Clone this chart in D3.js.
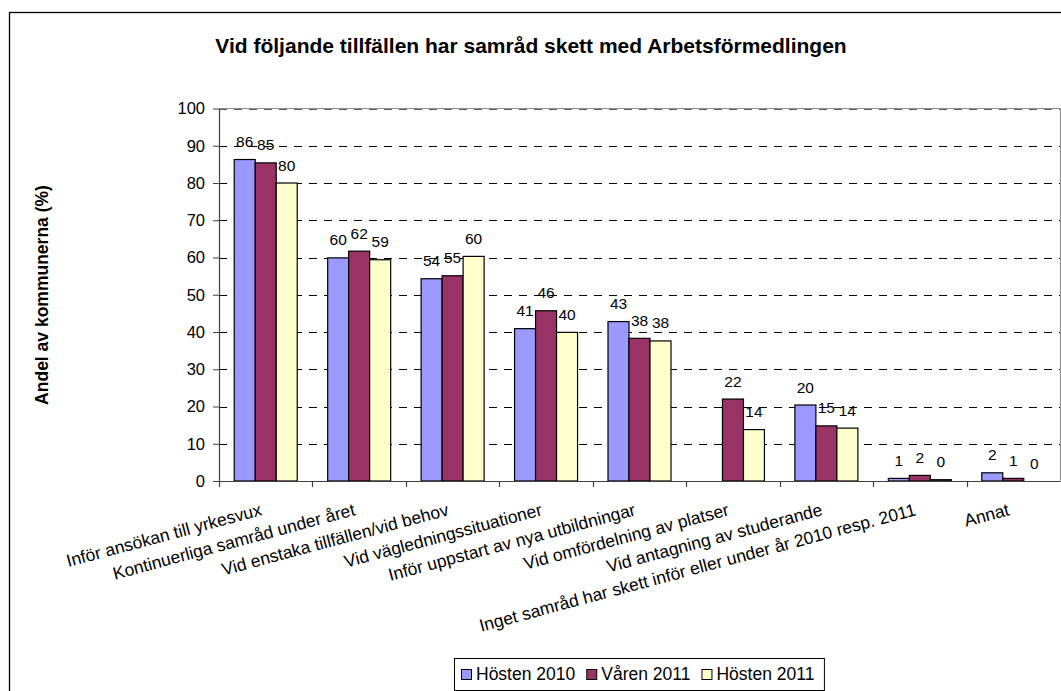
<!DOCTYPE html>
<html><head><meta charset="utf-8">
<script src="https://cdn.jsdelivr.net/npm/d3@7"></script>
<style>
body{margin:0;background:#fff}
svg{display:block}
text{font-family:"Liberation Sans",Arial,sans-serif;fill:#000}
</style>
</head><body>
<svg id="c" width="1061" height="691"></svg>
<script>
const categories = [
  "Inför ansökan till yrkesvux",
  "Kontinuerliga samråd under året",
  "Vid enstaka tillfällen/vid behov",
  "Vid vägledningssituationer",
  "Inför uppstart av nya utbildningar",
  "Vid omfördelning av platser",
  "Vid antagning av studerande",
  "Inget samråd har skett inför eller under år 2010 resp. 2011",
  "Annat"
];
const seriesNames = ["Hösten 2010", "Våren 2011", "Hösten 2011"];
const hosten2010 = [86.3, 59.9, 54.3, 40.9, 42.8, null, 20.4, 0.7, 2.2];
const varen2011  = [85.4, 61.7, 55.1, 45.7, 38.3, 22.0, 14.8, 1.5, 0.7];
const hosten2011 = [80.0, 59.4, 60.3, 39.9, 37.6, 13.8, 14.2, 0.35, 0];
const yTicks = [0, 10, 20, 30, 40, 50, 60, 70, 80, 90, 100];
const colors = ["#9999FF", "#993366", "#FFFFCC"];
const titleText = "Vid följande tillfällen har samråd skett med Arbetsförmedlingen";
const yTitleText = "Andel av kommunerna (%)";

const seriesValues = [hosten2010, varen2011, hosten2011];
const svg = d3.select("#c");
const P = {left: 219, right: 1060, top: 108.5, bottom: 481};

// outer chart border
svg.append("rect").attr("x", 9.5).attr("y", 12.5).attr("width", 1100).attr("height", 700)
  .attr("fill", "#fff").attr("stroke", "#000").attr("stroke-width", 1.3);

const x0 = d3.scaleBand().domain(categories).range([P.left, P.right]).padding(0);
const groupW = 63;
const x1 = d3.scaleBand().domain(seriesNames).range([(x0.bandwidth() - groupW) / 2, (x0.bandwidth() + groupW) / 2]).padding(0);
const y = d3.scaleLinear().domain([0, 100]).range([P.bottom, P.top]);

// plot area border (top/right, gray)
svg.append("path")
  .attr("d", `M${P.left},${P.top}H${P.right + 0.5}V${P.bottom}`)
  .attr("fill", "none").attr("stroke", "#909090").attr("stroke-width", 1.2);

// gridlines
svg.append("g").selectAll("line").data(yTicks.filter(d => d > 0)).join("line")
  .attr("x1", P.left).attr("x2", P.right)
  .attr("y1", d => Math.round(y(d)) + 0.5).attr("y2", d => Math.round(y(d)) + 0.5)
  .attr("stroke", d => d === 100 ? "#606060" : "#000").attr("stroke-width", 1)
  .attr("stroke-dasharray", "8,7");

// bars
const rows = [];
categories.forEach((c, i) => {
  seriesNames.forEach((s, j) => {
    rows.push({cat: c, ser: s, v: seriesValues[j][i], color: colors[j]});
  });
});
const valid = rows.filter(d => d.v !== null);
svg.append("g").selectAll("rect").data(valid).join("rect")
  .attr("x", d => x0(d.cat) + x1(d.ser))
  .attr("y", d => y(d.v))
  .attr("width", x1.bandwidth())
  .attr("height", d => y(0) - y(d.v))
  .attr("fill", d => d.color)
  .attr("stroke", "#000").attr("stroke-width", 1.2);

// data labels
svg.append("g").selectAll("text").data(valid).join("text")
  .attr("x", d => x0(d.cat) + x1(d.ser) + x1.bandwidth() / 2)
  .attr("y", d => y(d.v) - 12.5)
  .attr("text-anchor", "middle")
  .attr("font-size", 15.5)
  .text(d => d3.format(".0f")(d.v));

// y axis
const yAxis = svg.append("g").attr("transform", `translate(${P.left},0)`)
  .call(d3.axisLeft(y).tickValues(yTicks).tickSize(6).tickSizeOuter(0).tickPadding(8));
yAxis.select(".domain").attr("stroke", "#404040").attr("stroke-width", 1.2);
yAxis.selectAll(".tick line").attr("stroke", "#404040");
yAxis.selectAll(".tick text").attr("font-size", 16.5).attr("font-family", "Liberation Sans, Arial, sans-serif").attr("fill", "#000");

// x axis line and boundary ticks
const xAxis = svg.append("g").attr("transform", `translate(0,${P.bottom})`)
  .call(d3.axisBottom(x0).tickSize(0).tickSizeOuter(0).tickFormat(""));
xAxis.select(".domain").attr("stroke", "#404040").attr("stroke-width", 1.2);
const bounds = categories.map(c => x0(c));
svg.append("g").selectAll("line").data(bounds).join("line")
  .attr("x1", d => Math.round(d) + 0.5).attr("x2", d => Math.round(d) + 0.5)
  .attr("y1", P.bottom).attr("y2", P.bottom + 6)
  .attr("stroke", "#404040").attr("stroke-width", 1.2);

// x labels (rotated)
svg.append("g").selectAll("text").data(categories).join("text")
  .attr("transform", d => `translate(${x0(d) + x0.bandwidth() / 2 - 3},${P.bottom + 34}) rotate(-15)`)
  .attr("text-anchor", "end")
  .attr("font-size", 17.5)
  .text(d => d);

// title
svg.append("text").attr("x", 531).attr("y", 53).attr("text-anchor", "middle")
  .attr("font-size", 21).attr("font-weight", "bold").text(titleText);

// y title
svg.append("text").attr("transform", "translate(48,295) rotate(-90)")
  .attr("text-anchor", "middle").attr("font-size", 17.5).attr("font-weight", "bold")
  .text(yTitleText);

// legend
const lg = svg.append("g");
const lgBox = lg.append("rect").attr("x", 454.5).attr("y", 658.5).attr("height", 32)
  .attr("fill", "#fff").attr("stroke", "#000").attr("stroke-width", 1);
let lx = 461;
seriesNames.forEach((s, j) => {
  lg.append("rect").attr("x", lx + 0.5).attr("y", 669.5).attr("width", 10).attr("height", 10)
    .attr("fill", colors[j]).attr("stroke", "#000").attr("stroke-width", 1);
  const t = lg.append("text").attr("x", lx + 15).attr("y", 680).attr("font-size", 17.5).text(s);
  const w = t.node().getComputedTextLength();
  lx = lx + 15 + w + 11;
});
lgBox.attr("width", lx - 11 + 10 - 454.5);
</script>
</body></html>
